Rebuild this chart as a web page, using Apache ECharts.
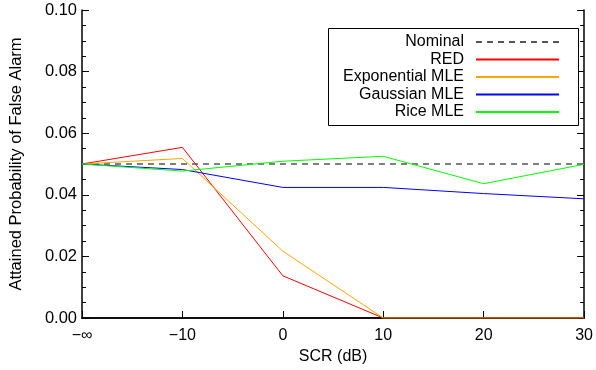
<!DOCTYPE html>
<html><head><meta charset="utf-8">
<script src="https://cdn.jsdelivr.net/npm/echarts@6/dist/echarts.min.js"></script>
<style>html,body{margin:0;padding:0;background:#fff}#c{width:596px;height:370px}</style>
</head><body><div id="c"></div>
<script>
const categories = ['\u2212\u221E', '\u221210', '0', '10', '20', '30'];
const nominal = [0.05, 0.05, 0.05, 0.05, 0.05, 0.05];
const red = [0.05, 0.0554, 0.0137, 0, 0, 0];
const expMLE = [0.05, 0.0518, 0.0217, 0, 0, 0];
const gaussMLE = [0.05, 0.0482, 0.0424, 0.0424, 0.0404, 0.0387];
const riceMLE = [0.05, 0.0477, 0.0509, 0.0525, 0.0436, 0.0499];
const seriesNames = ['Nominal', 'RED', 'Exponential MLE', 'Gaussian MLE', 'Rice MLE'];

const font = 'Liberation Sans, Arial, Helvetica, sans-serif';
const chart = echarts.init(document.getElementById('c'), null, {renderer: 'canvas'});
function line(name, data, color, extra) {
  return Object.assign({
    name, type: 'line', data, symbol: 'none', animation: false,
    lineStyle: {color, width: 1}, itemStyle: {color}
  }, extra || {});
}
const axisLine = {show: true, lineStyle: {color: '#000', width: 1.5}};
const legends = seriesNames.map((n, i) => ({
  orient: 'horizontal', align: 'right', right: 36, top: 34 + i * 17.5,
  padding: 0, itemWidth: 83, itemHeight: 14,
  itemStyle: {opacity: 0},
  textStyle: {fontFamily: font, fontSize: 16, color: '#000', padding: [0, 7, 0, 0]},
  data: [n]
}));
chart.setOption({
  animation: false,
  textStyle: {fontFamily: font},
  grid: {left: 72, right: 9, top: 10, bottom: 48, containLabel: false},
  graphic: [{
    type: 'rect', left: 328, top: 28, z: 1,
    shape: {width: 250, height: 97},
    style: {fill: '#fff', stroke: '#000', lineWidth: 1}
  }],
  legend: legends,
  xAxis: [{
    type: 'category', data: categories, boundaryGap: false,
    name: 'SCR (dB)', nameLocation: 'middle', nameGap: 31,
    nameTextStyle: {fontFamily: font, fontSize: 16, color: '#000'},
    axisLine, axisTick: {show: true, inside: true, length: 7, lineStyle: {color: '#000', width: 1}},
    axisLabel: {fontFamily: font, fontSize: 16, color: '#000', margin: 10},
    splitLine: {show: false}
  }, {
    type: 'category', data: categories, boundaryGap: false, position: 'top',
    axisLine, axisTick: {show: false},
    axisLabel: {show: false}, splitLine: {show: false}
  }],
  yAxis: [{
    type: 'value', min: 0, max: 0.1, interval: 0.02,
    name: 'Attained Probability of False Alarm', nameLocation: 'middle', nameGap: 57,
    nameTextStyle: {fontFamily: font, fontSize: 16.5, color: '#000'},
    axisLine, axisTick: {show: true, inside: true, length: 7, lineStyle: {color: '#000', width: 1}},
    minorTick: {show: true, splitNumber: 4, length: 4, lineStyle: {color: '#000', width: 1}},
    axisLabel: {fontFamily: font, fontSize: 16.5, color: '#000', margin: 5,
      formatter: v => v.toFixed(2)},
    splitLine: {show: false}
  }, {
    type: 'value', min: 0, max: 0.1, interval: 0.02, position: 'right',
    axisLine, axisTick: {show: true, inside: true, length: 7, lineStyle: {color: '#000', width: 1}},
    minorTick: {show: true, splitNumber: 4, length: 4, lineStyle: {color: '#000', width: 1}},
    axisLabel: {show: false}, splitLine: {show: false}
  }],
  series: [
    line(seriesNames[0], nominal, '#555', {lineStyle: {color: '#555', width: 1.5, type: [6, 5]}, itemStyle: {color: '#000'}}),
    line(seriesNames[1], red, '#ff0000'),
    line(seriesNames[2], expMLE, '#ffa500'),
    line(seriesNames[3], gaussMLE, '#0000ff'),
    line(seriesNames[4], riceMLE, '#00ff00')
  ]
});
</script></body></html>
